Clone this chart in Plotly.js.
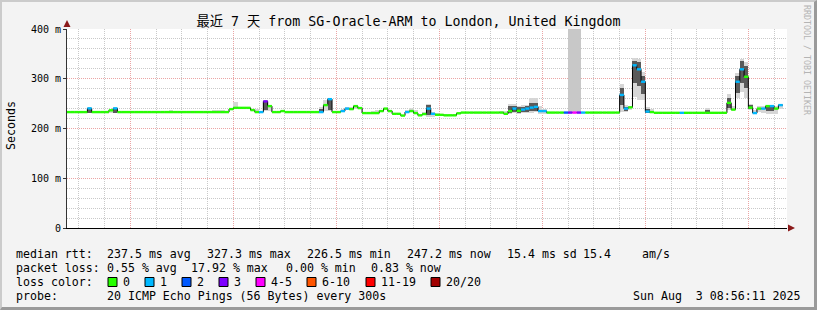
<!DOCTYPE html>
<html><head><meta charset="utf-8">
<script src="https://cdn.plot.ly/plotly-3.0.1.min.js"></script>
<style>
html,body{margin:0;padding:0;background:#f3f3f3;overflow:hidden;}
#wrap{position:relative;width:817px;height:310px;overflow:hidden;}
#chart{width:817px;height:310px;}
#frame{position:absolute;left:0;top:0;width:817px;height:310px;box-sizing:border-box;
 border-top:2px solid #cbcbcb;border-left:2px solid #cbcbcb;border-bottom:3px solid #9a9a9a;border-right:3px solid #9a9a9a;pointer-events:none;}
</style></head><body>
<div id="wrap"><div id="chart"></div><div id="frame"></div></div>
<script>
// ---------------- data ----------------
const titleText = '最近 7 天 from SG-Oracle-ARM to London, United Kingdom';
const firstHour = '2025-07-27T09:00:00Z';          // start of hourly step 0
const xRangeStart = '2025-07-27 09:15:00';
const xRangeEnd   = '2025-08-03 09:00:00';

// median rtt per hour (ms)
const medianMs = [
 233,233,233,233,233,240.5,233,233,233,233,
 236.5,240.5,233,233,233,233,233,233,233,233,
 233,233,233,233,233,233,233,233,233,233,
 233,233,233,233,233,233,233,233,239,241.5,
 241.5,241.5,241.5,237,233,233,254.5,245,233,233,
 235,233,233,233,233,233,233,233,233,233,
 247,259,233,233,235,240,239,245,241,231,
 231,231,231,235,240,235,229.5,229.5,226,233,
 235,231,226.5,229,240,229.5,227.5,227.5,226.5,226.5,
 226.5,230.5,232,232,232,232,232,232,232,232,
 232,232,229.5,235,240,235.5,238,240,242,243.5,
 235,235,232,232,232,232,232,232,232,232,
 232,232,232,232,232,232,232,232,232,267.5,
 240,242.5,327,319,294,234,233,231.5,231.5,231.5,
 231.5,231.5,231.5,231.5,231.5,231.5,231.5,231.5,231.5,231.5,
 231.5,231.5,231.5,231.5,251.5,238,294,319,304,242,
 231,240,240,245,245,240,247
];
// loss class per hour (index into lossLabels)
const lossLevel = [
 0,0,0,0,0,1,0,0,0,0,
 0,1,0,0,0,0,0,0,0,0,
 0,0,0,0,0,0,0,0,0,0,
 0,0,0,0,0,0,0,0,0,0,
 0,0,0,0,0,1,3,0,0,0,
 0,0,0,0,0,0,0,0,0,1,
 0,1,0,0,1,1,0,0,0,0,
 0,0,0,0,0,0,0,0,0,1,
 0,0,0,0,1,1,0,0,0,0,
 0,0,0,0,0,0,0,0,0,0,
 0,0,0,0,1,0,1,1,1,1,
 1,1,0,0,0,0,2,3,4,3,
 1,0,0,0,0,0,0,0,0,1,
 1,0,1,1,1,1,0,0,0,0,
 0,0,0,1,0,0,0,0,0,0,
 0,0,0,0,0,0,1,1,0,0,
 1,0,1,0,1,0,1
];
const lossLabels = ['0','1','2','3','4-5','6-10','11-19','20/20'];
const lossColors = ['#26ff00','#00b8ff','#0059ff','#7e00ff','#ff00ff','#ff5500','#ff0000','#a10000'];

// smoke (ping spread) – outer light band
const smokeHours = [5,10,11,24,25,29,34,35,36,37,39,40,41,44,46,47,48,58,59,60,61,64,65,66,67,71,72,73,79,80,81,83,84,85,86,
 101,102,103,104,105,106,107,108,109,110,111,129,130,131,132,133,134,135,136,149,154,155,156,157,158,159,160,161,162,163,164,165,166];
const smokeLo = [232,232,232,233,233,233,233,233,233,233,241,241,241,233,235,236,233,233,233,235,235,234,237,237,240,231,231,233,232,233,231,228,224,224,226,
 231,229,230,232,230,232,232,232,233,230,230,234,234,238,264,258,257,231,233,233,237,237,261,274,262,237,232,233,232,230,230,230,240];
const smokeHi = [241,237,241,237,236,236,237,237,237,236,254,244,244,239,257,247,236,236,243,258,262,240,244,244,247,236,238,238,238,242,237,233,249,234,231,
 236,236,249,249,246,247,248,262,262,245,240,289,248,246,341,339,314,244,240,241,269,245,311,340,334,250,238,245,245,248,248,245,249];
// smoke – dense dark core
const coreHours = [5,11,46,59,61,84,103,104,105,106,107,108,109,129,130,132,133,134,135,149,154,156,157,158,159,163,164];
const coreLo = [232,232,238,233,238,227,232,234,232,234,234,235,236,248,236,292,285,270,232,233,241,272,292,282,239,236,236];
const coreHi = [240,240,254,240,260,247,245,246,243,244,245,252,252,282,244,336,334,305,240,238,262,305,336,326,247,246,247];
// hours with heavy loss (grey column up to the top)
const lostHours = [117,118,119];
const lostTop = 400;

const dayNoons  = ['2025-07-27 12:00','2025-07-28 12:00','2025-07-29 12:00','2025-07-30 12:00','2025-07-31 12:00','2025-08-01 12:00','2025-08-02 12:00'];
const dayLabels = ['Sun 27 Jul','Mon 28 Jul','Tue 29 Jul','Wed 30 Jul','Thu 31 Jul','Fri 01 Aug','Sat 02 Aug'];
const yTickVals = [0,100,200,300,400];
const yTickText = ['0','100 m','200 m','300 m','400 m'];
const yTitle = 'Seconds';

const rttLabel = 'median rtt:';
const rttStats = ['237.5 ms avg','327.3 ms max','226.5 ms min','247.2 ms now','15.4 ms sd','15.4','am/s'];
const lossLabel = 'packet loss:';
const lossStats = ['0.55 % avg','17.92 % max','0.00 % min','0.83 % now'];
const lossColorLabel = 'loss color:';
const probeLabel = 'probe:';
const probeText = '20 ICMP Echo Pings (56 Bytes) every 300s';
const stampText = 'Sun Aug\u00a0\u00a03 08:56:11 2025';
const sideText = 'RRDTOOL / TOBI OETIKER';

// ---------------- helpers / styles ----------------
const MONO = '"DejaVu Sans Mono", "Noto Sans CJK SC", monospace';
const W=817, H=310, L=67, R=787, T=29, B=228;
const HOUR = 3600000;
const t0 = Date.parse(firstHour);
const fmt = ms => new Date(ms).toISOString().slice(0,19).replace('T',' ');
const hourStart = i => fmt(t0 + i*HOUR);
const hourMid = i => fmt(t0 + (i+0.5)*HOUR);
const px = x => (x - L)/(R - L);
const py = y => (B - y)/(B - T);
const GRAY = '#c9c9c9', RED = '#eba5a5', DOT = '1px,1px';

function band(hours, lo, hi, color){
  return {type:'bar', x:hours.map(hourMid), base:lo, y:hi.map((h,k)=>h-lo[k]), width:HOUR,
    marker:{color:color, line:{width:0}}, hoverinfo:'skip', showlegend:false};
}
const traces = [];
traces.push(band(lostHours, lostHours.map(i=>medianMs[i]), lostHours.map(()=>lostTop), '#c8c8c8'));
traces.push(band(smokeHours, smokeLo, smokeHi, '#d6d6d6'));
traces.push(band(coreHours, coreLo, coreHi, '#5a5a5a'));
// black step connector
traces.push({type:'scatter', mode:'lines',
  x: medianMs.map((m,i)=>hourStart(i)).concat([hourStart(medianMs.length)]),
  y: medianMs.concat([medianMs[medianMs.length-1]]),
  line:{shape:'hv', color:'#000', width:1}, hoverinfo:'skip', showlegend:false});
// coloured median segments
lossColors.forEach((col,lvl)=>{
  const xs=[], ys=[];
  medianMs.forEach((m,i)=>{ if(lossLevel[i]===lvl){ xs.push(hourStart(i),hourStart(i+1),null); ys.push(m,m,null);} });
  if(xs.length) traces.push({type:'scatter', mode:'lines', x:xs, y:ys, line:{color:col, width:2.4},
    connectgaps:false, hoverinfo:'skip', showlegend:false});
});

// ---------------- annotations ----------------
const ann = [];
function txt(text, x, y, o){ ann.push(Object.assign({text:text, xref:'paper', yref:'paper', x:px(x), y:py(y),
  showarrow:false, xanchor:'left', yanchor:'middle', borderpad:0, borderwidth:0,
  font:{family:MONO, size:11.6, color:'#000'}}, o||{})); }
const rowY = [254, 268, 282, 296];
txt(rttLabel, 16, rowY[0]);
[107.3,207.3,307.3,407.3,507.3,583.3,642.3].forEach((x,k)=>txt(rttStats[k], x, rowY[0]));
txt(lossLabel, 16, rowY[1]);
[107.3,191,286,371].forEach((x,k)=>txt(lossStats[k], x, rowY[1]));
txt(lossColorLabel, 16, rowY[2]);
const boxX = [108,145,182,219,256,307,366,431];
const shapes = [];
boxX.forEach((x,k)=>{
  shapes.push({type:'rect', xref:'paper', yref:'paper', x0:px(x), x1:px(x+9), y0:py(rowY[2]+4.5), y1:py(rowY[2]-4.5),
    fillcolor:lossColors[k], line:{color:'#000', width:1}});
  txt(lossLabels[k], x+15, rowY[2]);
});
txt(probeLabel, 16, rowY[3]);
txt(probeText, 107.3, rowY[3]);
txt(stampText, 801, rowY[3], {xanchor:'right'});
txt(yTitle, 11, 126, {xanchor:'center', textangle:-90});
txt(sideText, 807, 60, {xanchor:'center', textangle:90, font:{family:MONO, size:8.3, color:'#b4b4b4'}});

// axis arrows
const AR = '#8b1a1a';
shapes.push({type:'path', xref:'paper', yref:'paper', fillcolor:AR, line:{width:0},
  path:`M ${px(63.5)},${py(27)} L ${px(70.5)},${py(27)} L ${px(67)},${py(20)} Z`});
shapes.push({type:'path', xref:'paper', yref:'paper', fillcolor:AR, line:{width:0},
  path:`M ${px(788)},${py(224.5)} L ${px(788)},${py(231.5)} L ${px(795)},${py(228)} Z`});

const layout = {
  width:W, height:H, margin:{l:L, r:W-R, t:T, b:H-B, pad:0},
  paper_bgcolor:'#f3f3f3', plot_bgcolor:'#ffffff',
  barmode:'overlay', bargap:0, showlegend:false,
  font:{family:MONO, size:11.6, color:'#000'},
  title:{text:titleText, font:{family:MONO, size:13.3, color:'#000'}, x:0.5, xref:'container', xanchor:'center',
    y:1-21/H, yref:'container', yanchor:'middle'},
  xaxis:{type:'date', range:[xRangeStart, xRangeEnd], tickmode:'linear', tick0:'2025-07-27', dtick:86400000,
    showticklabels:false, ticks:'', showgrid:true, gridcolor:RED, griddash:DOT, gridwidth:1,
    minor:{tickmode:'linear', tick0:'2025-07-27', dtick:21600000, showgrid:true, gridcolor:GRAY, griddash:DOT, gridwidth:1},
    showline:true, linecolor:'#000', linewidth:1, zeroline:false, fixedrange:true},
  xaxis2:{type:'date', overlaying:'x', anchor:'y', side:'bottom', range:[xRangeStart, xRangeEnd],
    tickmode:'array', tickvals:dayNoons, ticktext:dayLabels, showgrid:false, ticks:'', showline:false, zeroline:false,
    tickfont:{family:MONO, size:10, color:'#000'}, fixedrange:true},
  yaxis:{range:[0,400], tickmode:'array', tickvals:yTickVals, ticktext:yTickText,
    showgrid:true, gridcolor:RED, griddash:DOT, gridwidth:1,
    minor:{tickmode:'linear', tick0:0, dtick:20, showgrid:true, gridcolor:GRAY, griddash:DOT, gridwidth:1},
    ticks:'outside', ticklen:3, tickcolor:'#333', tickfont:{family:MONO, size:10, color:'#000'},
    showline:true, linecolor:'#333', linewidth:1, zeroline:false, fixedrange:true},
  shapes:shapes, annotations:ann
};
Plotly.newPlot('chart', traces, layout, {staticPlot:true, displayModeBar:false});
</script>
</body></html>
